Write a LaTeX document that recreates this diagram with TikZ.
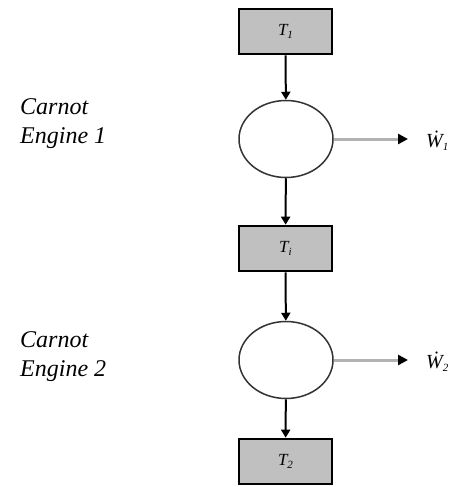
\documentclass[tikz,border=0pt]{standalone}
\usepackage{fontspec}
\setmainfont{Liberation Serif}
\usetikzlibrary{arrows.meta,shapes.geometric}
\definecolor{boxgray}{HTML}{C0C0C0}
\tikzset{
  reservoir/.style={draw=black, line width=2.6pt, fill=boxgray, minimum width=93pt, minimum height=45pt, inner sep=0pt, font=\fontsize{17}{17}\selectfont\itshape},
  engine/.style={draw=black!80, line width=1.5pt, ellipse, minimum width=94pt, minimum height=77pt, inner sep=0pt},
  flow/.style={line width=2pt, -{Triangle[length=8pt, width=9pt]}},
  workflow/.style={line width=3pt, draw=black!30, -{Triangle[length=10pt, width=10pt, fill=black, color=black]}},
  worklabel/.style={anchor=west, inner sep=0pt, font=\fontsize{20}{20}\selectfont\itshape},
  caption/.style={align=left, anchor=west, font=\fontsize{24}{29}\selectfont\itshape, inner sep=0pt},
}
\newcommand{\subtxt}[1]{\raisebox{-0.35ex}{\fontsize{11}{11}\selectfont #1}}
\begin{document}
\begin{tikzpicture}[x=1pt, y=-1pt]
  \useasboundingbox (0,0) rectangle (451,487);
  \fill[white] (0,0) rectangle (451,487);

  % reservoirs
  \node[reservoir] (t1) at (285.5,31.5) {T\subtxt{1}};
  \node[reservoir] (ti) at (285.5,248.5) {T\subtxt{i}};
  \node[reservoir] (t2) at (285.5,461.5) {T\subtxt{2}};

  % engines
  \node[engine] (e1) at (286,139) {};
  \node[engine] (e2) at (286,360) {};

  % heat flow
  \draw[flow] (t1) -- (e1);
  \draw[flow] (e1) -- (ti);
  \draw[flow] (ti) -- (e2);
  \draw[flow] (e2) -- (t2);

  % work output
  \coordinate (a1) at (408,139);
  \coordinate (a2) at (408,360);
  \draw[workflow] (e1.east) -- (a1);
  \draw[workflow] (e2.east) -- (a2);
  \node[worklabel] (w1) at (426,141) {\.W\subtxt{1}};
  \node[worklabel] (w2) at (426,362) {\.W\subtxt{2}};

  % captions
  \node[caption] (c1) at (20,124) {Carnot\\Engine 1};
  \node[caption] (c2) at (20,357) {Carnot\\Engine 2};
\end{tikzpicture}
\end{document}
